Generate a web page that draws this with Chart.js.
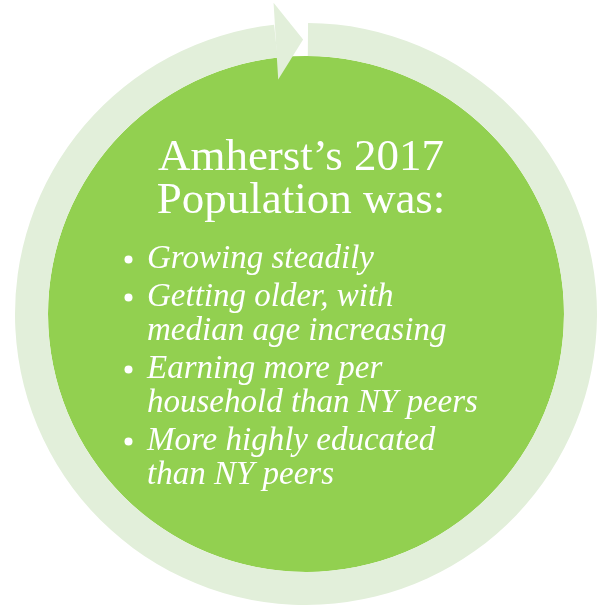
<!DOCTYPE html>
<html>
<head>
<meta charset="utf-8">
<script src="https://cdn.jsdelivr.net/npm/chart.js@4.4.1/dist/chart.umd.min.js"></script>
<style>
    html, body { margin: 0; padding: 0; background: #ffffff; }
    #wrap { position: relative; width: 600px; height: 608px; }
</style>
</head>
<body>
<div id="wrap"><canvas id="cycleChart"></canvas></div>
<script>
// ring: drawn arc and the gap left at the top (degrees)
const ringParts = ["arc", "gap"];
const ringValues = [353.3, 6.7];
// inner disc
const discValues = [1];
// text
const titleLines = ["Amherst\u2019s 2017", "Population was:"];
const bulletItems = [
    ["Growing steadily"],
    ["Getting older, with", "median age increasing"],
    ["Earning more per", "household than NY peers"],
    ["More highly educated", "than NY peers"]
];

const RING_COLOR = "#E2EFDA";
const DISC_COLOR = "#92D050";

const arrowHead = {
    id: "arrowHead",
    afterDatasetsDraw(chart) {
        const arc = chart.getDatasetMeta(0).data[0];
        if (!arc) return;
        const { x, y, innerRadius, outerRadius, endAngle } = arc.getProps(["x", "y", "innerRadius", "outerRadius", "endAngle"], true);
        const mid = (innerRadius + outerRadius) / 2;
        const half = (outerRadius - innerRadius) / 2 + 22;
        const tipAngle = endAngle + 5.7 * Math.PI / 180;
        const bx = x + mid * Math.cos(endAngle), by = y + mid * Math.sin(endAngle);
        const tx = x + mid * Math.cos(tipAngle), ty = y + mid * Math.sin(tipAngle);
        let dx = tx - bx, dy = ty - by;
        const len = Math.hypot(dx, dy);
        const nx = -dy / len, ny = dx / len;
        const ctx = chart.ctx;
        ctx.save();
        ctx.fillStyle = RING_COLOR;
        ctx.beginPath();
        ctx.moveTo(bx + nx * half, by + ny * half);
        ctx.lineTo(tx, ty);
        ctx.lineTo(bx - nx * half, by - ny * half);
        ctx.closePath();
        ctx.fill();
        ctx.restore();
    }
};

const centerText = {
    id: "centerText",
    afterDraw(chart) {
        const ctx = chart.ctx;
        ctx.save();
        ctx.fillStyle = "#ffffff";
        ctx.textBaseline = "alphabetic";

        ctx.font = '45px "Liberation Serif", "DejaVu Serif", serif';
        ctx.textAlign = "center";
        titleLines.forEach((line, i) => ctx.fillText(line, 301, 170 + i * 43));

        ctx.font = 'italic 33px "Liberation Serif", "DejaVu Serif", serif';
        ctx.textAlign = "left";
        let yy = 268;
        bulletItems.forEach(item => {
            ctx.beginPath();
            ctx.arc(128.5, yy - 8.5, 4, 0, Math.PI * 2);
            ctx.fill();
            item.forEach(line => {
                ctx.fillText(line, 147, yy);
                yy += 34;
            });
            yy += 4;
        });
        ctx.restore();
    }
};

document.addEventListener("DOMContentLoaded", () => {
    const ctx = document.getElementById("cycleChart").getContext("2d");
    new Chart(ctx, {
        type: "doughnut",
        data: {
            labels: ringParts,
            datasets: [{
                data: ringValues,
                backgroundColor: [RING_COLOR, "rgba(0,0,0,0)"],
                borderWidth: 0,
                rotation: 0.4,
                weight: 33
            }, {
                data: discValues,
                backgroundColor: [DISC_COLOR],
                borderWidth: 0,
                weight: 258
            }]
        },
        options: {
            responsive: true,
            maintainAspectRatio: false,
            animation: false,
            events: [],
            cutout: 0,
            radius: 291,
            layout: { padding: { left: 12, right: 0, top: 20, bottom: 0 } },
            plugins: {
                legend: { display: false },
                tooltip: { enabled: false }
            }
        },
        plugins: [arrowHead, centerText]
    });
});
</script>
</body>
</html>
